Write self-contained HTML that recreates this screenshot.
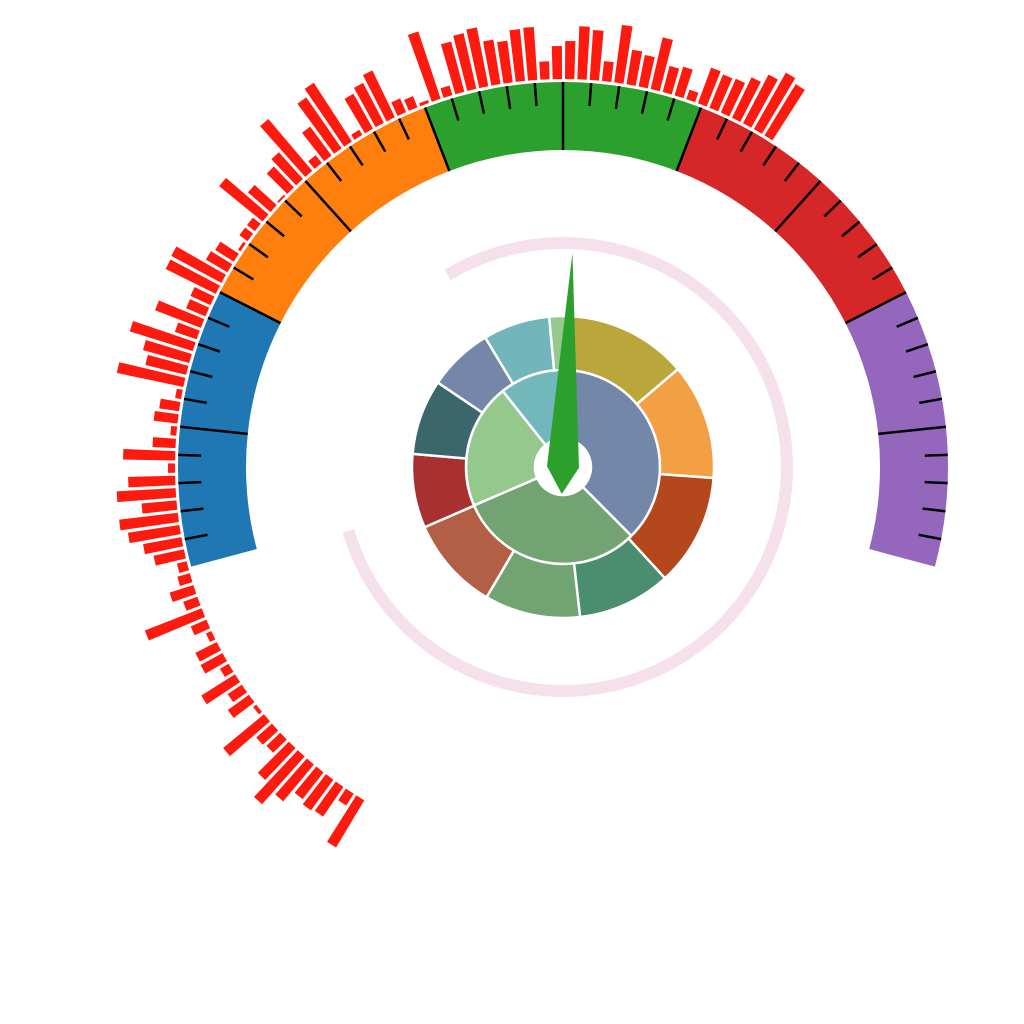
<!DOCTYPE html>
<html><head><meta charset="utf-8"><style>
html,body{margin:0;padding:0;background:#fff;width:1024px;height:1024px;overflow:hidden}
svg{display:block;font-family:"Liberation Sans",sans-serif}
</style></head><body>
<svg id="chart" width="1024" height="1024" viewBox="0 0 1024 1024">
<g id="bars"></g>
<g id="gauge"></g>
<g id="ticks"></g>
<g id="progress"></g>
<g id="sun"></g>
<g id="needle"></g>
</svg>
<script>
// ---- data ----
const barValues = [55,14,36,38,34,48,64,44,19,21,53,4,26,17,40,10,25,24,6,17,61,15,25,13,10,31,39,52,59,35,59,47,7,52,23,6,24,20,6,68,42,48,66,23,49,21,22,56,57,25,22,3,10,10,56,30,2,29,36,68,10,36,62,70,6,40,45,52,15,12,3,71,10,52,57,60,45,42,52,53,18,33,38,53,50,20,58,35,32,53,27,30,10,38,36,37,45,55,65,60];
const gaugeSegments = ['low','mid-low','mid','mid-high','high'];
const gaugeColors = ['#1f77b4','#ff7f0e','#2ca02c','#d62728','#9467bd'];
const gaugeMin = 0, gaugeMax = 100;
const needleValue = 51.2;
const progressValue = 79;
const innerLabels = ['a','b','c','d'];
const innerValues = [132,113,76,44];
const innerColors = ['#7388a9','#74a373','#94c88d','#72b7bb'];
const outerLabels = ['a1','a2','a3','a4','b1','b2','b3','c1','c2','c3','d1'];
const outerValues = [8.3,46.6,44.6,43.3,36,36.9,36.1,28.5,29,25,25.7];
const outerColors = ['#94c88d','#bba63c','#f39f43','#b5471d','#4a8d6f','#72a373','#b35f45','#a93030','#3b666b','#7487a8','#72b6bb'];
const outerStart = -5.3;

// ---- geometry ----
const NS='http://www.w3.org/2000/svg', cx=563, cy=467;
function pt(r,a){const t=a*Math.PI/180;return [cx+r*Math.sin(t), cy-r*Math.cos(t)];}
function arcPath(r0,r1,a0,a1){
  const big=(a1-a0)>180?1:0;
  const p0=pt(r1,a0),p1=pt(r1,a1),p2=pt(r0,a1),p3=pt(r0,a0);
  return `M${p0[0]},${p0[1]}A${r1},${r1} 0 ${big} 1 ${p1[0]},${p1[1]}L${p2[0]},${p2[1]}A${r0},${r0} 0 ${big} 0 ${p3[0]},${p3[1]}Z`;
}
function mk(tag,parent){const e=document.createElementNS(NS,tag);parent.appendChild(e);return e;}
const gStart=-105, gEnd=105;
function gaugeAngle(v){return gStart+(v-gaugeMin)/(gaugeMax-gaugeMin)*(gEnd-gStart);}

// bars
const barG=document.getElementById('bars');
const bStart=-148.5, bStep=1.823, bW=1.38, bR=388;
barValues.forEach((v,i)=>{
  const a=bStart+i*bStep;
  const p=mk('path',barG);
  p.setAttribute('d',arcPath(bR,bR+Math.max(v,0.5),a-bW/2,a+bW/2));
  p.setAttribute('fill','#ff1a10');
  
  
});

// gauge
const gg=document.getElementById('gauge');
gaugeSegments.forEach((s,i)=>{
  const v0=gaugeMin+i*(gaugeMax-gaugeMin)/gaugeSegments.length, v1=v0+(gaugeMax-gaugeMin)/gaugeSegments.length;
  const p=mk('path',gg);
  p.setAttribute('d',arcPath(317,385,gaugeAngle(v0),gaugeAngle(v1)));
  p.setAttribute('fill',gaugeColors[i]);
  
  
});
const tg=document.getElementById('ticks');
for(let v=gaugeMin;v<=gaugeMax;v+=2){
  if(v===gaugeMin||v===gaugeMax)continue;
  const major=v%10===0, a=gaugeAngle(v);
  const p0=pt(385,a),p1=pt(major?317:362,a);
  const l=mk('line',tg);
  l.setAttribute('x1',p0[0]);l.setAttribute('y1',p0[1]);l.setAttribute('x2',p1[0]);l.setAttribute('y2',p1[1]);
  l.setAttribute('stroke','#000');l.setAttribute('stroke-width',2.5);
  
  
}

// progress arc
const pg=document.getElementById('progress');
const pa0=-31, pa1=pa0+progressValue/100*360;
const pp=mk('path',pg);
pp.setAttribute('d',arcPath(218,230,pa0,pa1));
pp.setAttribute('fill','#f5e1ec');



// sunburst
const sg=document.getElementById('sun');
function ring(vals,cols,labels,r0,r1,start,name){
  const tot=vals.reduce((a,b)=>a+b,0);let a=start;
  vals.forEach((v,i)=>{
    const span=v/tot*360;
    const p=mk('path',sg);
    p.setAttribute('d',arcPath(r0,r1,a,a+span));
    p.setAttribute('fill',cols[i]);p.setAttribute('stroke','#fff');p.setAttribute('stroke-width',2.5);
    
    
    a+=span;
  });
}
ring(innerValues,innerColors,innerLabels,28,97,5,'inner-slice');
ring(outerValues,outerColors,outerLabels,97,151,outerStart,'outer-slice');
const hole=mk('circle',sg);
hole.setAttribute('cx',cx);hole.setAttribute('cy',cy);hole.setAttribute('r',28);hole.setAttribute('fill','#fff');



// needle
const ng=document.getElementById('needle');
const na=gaugeAngle(needleValue);
const tip=pt(214,na),lb=pt(16,na-90),rb=pt(16,na+90),bt=pt(27,na+180);
const np=mk('polygon',ng);
np.setAttribute('points',`${tip} ${rb} ${bt} ${lb}`);
np.setAttribute('fill','#2ca02c');


</script>
</body></html>
